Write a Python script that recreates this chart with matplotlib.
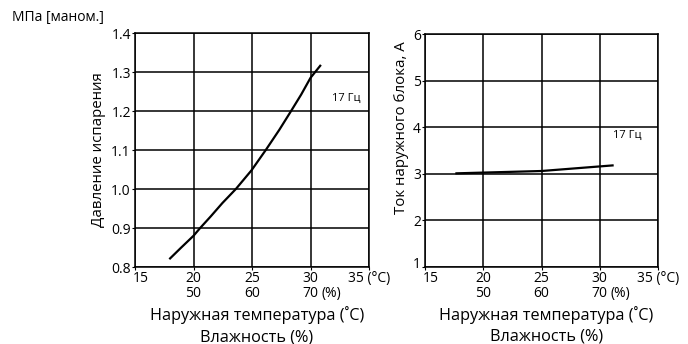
import matplotlib
matplotlib.use('Agg')
import matplotlib.pyplot as plt
import matplotlib.transforms as mtransforms

plt.rcParams['font.family'] = ['Open Sans', 'DejaVu Sans']
plt.rcParams['font.size'] = 10

# Datos: presión de evaporación (17 Hz)
temp_presion = [18.0, 18.92, 20.0, 20.57, 21.48, 22.47, 23.62, 24.96,
                26.2, 27.34, 28.34, 29.2, 30.0, 30.83]
presion = [0.822, 0.849, 0.880, 0.900, 0.930, 0.964, 1.000, 1.048,
           1.101, 1.152, 1.200, 1.242, 1.285, 1.316]

# Datos: corriente de la unidad exterior (17 Hz)
temp_corriente = [17.7, 25.0, 31.1]
corriente = [3.01, 3.06, 3.18]

xticks = [15, 20, 25, 30, 35]
xticklabels = ['15', '20\n50', '25\n60', '30\n70', '35 (°C)']
yticks_presion = [0.8, 0.9, 1.0, 1.1, 1.2, 1.3, 1.4]
yticklabels_presion = ['0.8', '0.9', '1.0', '1.1', '1.2', '1.3', '1.4']
yticks_corriente = [1, 2, 3, 4, 5, 6]

fig = plt.figure(figsize=(6.88, 3.44), dpi=100)
ax1 = fig.add_axes([135/688, 77/344, 234/688, 234/344])
ax2 = fig.add_axes([425/688, 77/344, 233/688, 233/344])


def mover(etiqueta, dx, dy):
    # desplaza una etiqueta unos puntos
    off = mtransforms.ScaledTranslation(dx/72, dy/72, fig.dpi_scale_trans)
    etiqueta.set_transform(etiqueta.get_transform() + off)


def estilo(ax):
    ax.set_xlim(15, 35)
    ax.set_xticks(xticks)
    ax.set_xticklabels(xticklabels, linespacing=1.0)
    ax.grid(True, color='black', linewidth=1.1)
    ax.set_axisbelow(True)
    for s in ax.spines.values():
        s.set_linewidth(1.1)
    ax.tick_params(length=2, width=0.8, pad=1, labelsize=10)
    mover(ax.get_xticklabels()[0], 4.5, 0)
    # "(%)" junto al 70
    ax.annotate('(%)', xy=(30, 0), xycoords=('data', 'axes fraction'),
                xytext=(8, -13.5), textcoords='offset points',
                ha='left', va='top', fontsize=10)
    ax.text(0.52, -0.205, 'Наружная температура (˚C)', transform=ax.transAxes,
            ha='center', va='center', fontsize=11.7)
    ax.text(0.52, -0.30, 'Влажность (%)', transform=ax.transAxes,
            ha='center', va='center', fontsize=11.7)


# Gráfico izquierdo
ax1.plot(temp_presion, presion, color='black', linewidth=1.6)
ax1.set_ylim(0.8, 1.4)
ax1.set_yticks(yticks_presion)
ax1.set_yticklabels(yticklabels_presion)
ax1.set_ylabel('Давление испарения', fontsize=10.8, labelpad=4)
ax1.text(31.8, 1.233, '17 Гц', fontsize=8, va='center')
estilo(ax1)
fig.text(12/688, 1 - 18/344, 'МПа [маном.]', fontsize=10, va='center')

# Gráfico derecho
ax2.plot(temp_corriente, corriente, color='black', linewidth=1.6)
ax2.set_ylim(1, 6)
ax2.set_yticks(yticks_corriente)
ax2.set_ylabel('Ток наружного блока, А', fontsize=10.8)
ax2.yaxis.set_label_coords(-0.067, 0.597)
ax2.text(31.1, 3.83, '17 Гц', fontsize=8, va='center')
estilo(ax2)
mover(ax2.get_yticklabels()[0], 0, 3)

fig.savefig('out.png', dpi=100)
